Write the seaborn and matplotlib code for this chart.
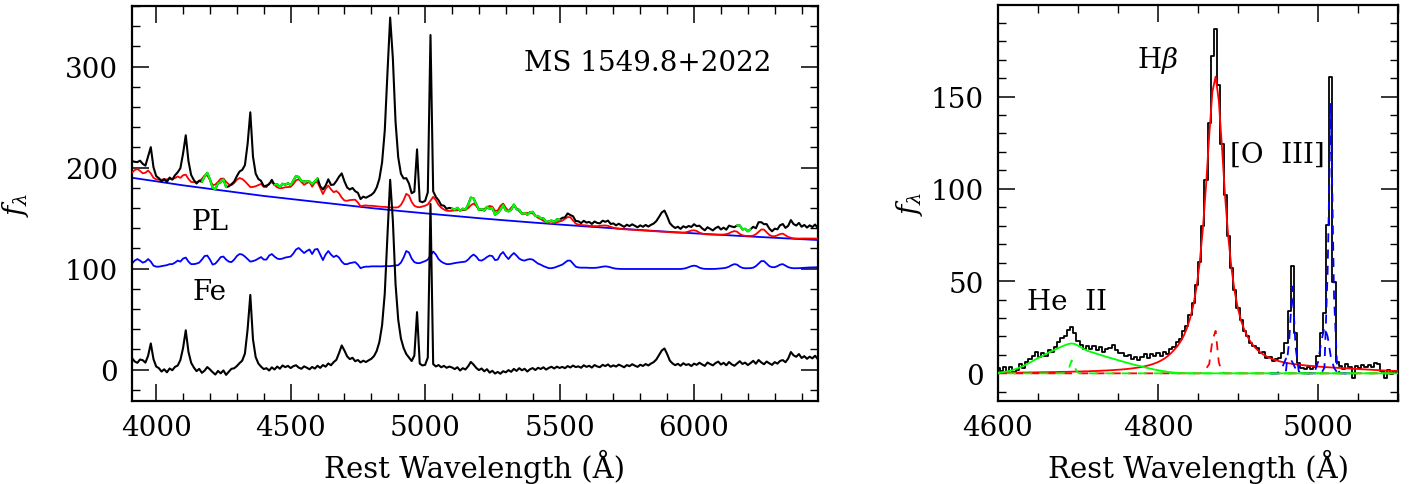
import numpy as np
import matplotlib
matplotlib.use("Agg")
import matplotlib.pyplot as plt
from matplotlib.ticker import MultipleLocator
import seaborn as sns

sns.set_theme(style="white")
plt.rcParams['font.family'] = ['DejaVu Serif']
plt.rcParams['mathtext.fontset'] = 'dejavuserif'
plt.rcParams.update({'text.color': 'black', 'axes.labelcolor': 'black',
                     'xtick.color': 'black', 'ytick.color': 'black',
                     'axes.edgecolor': 'black'})

# ---------------- Left panel data (10 A grid, 3910-6460) ----------------
wave_left = np.arange(3910, 6461, 10)

obs_total = [
    206.5, 205.8, 205.5, 206.9, 203.8, 202.0, 211.0, 220.3, 200.4, 191.7,
    189.6, 186.4, 188.7, 185.8, 190.2, 188.1, 192.5, 195.4, 199.5, 214.0,
    232.1, 206.6, 192.8, 187.8, 184.3, 187.2, 185.9, 191.3, 194.9, 188.3,
    180.1, 178.5, 184.7, 185.5, 188.5, 180.8, 181.5, 183.6, 186.2, 191.6,
    196.2, 197.8, 202.5, 223.6, 254.8, 210.9, 194.1, 188.8, 186.9, 181.6,
    182.2, 183.6, 187.9, 183.0, 183.6, 180.7, 184.1, 183.1, 184.6, 182.6,
    187.2, 191.8, 190.7, 186.7, 186.3, 186.7, 186.3, 183.8, 186.4, 189.4,
    181.5, 178.5, 182.1, 188.5, 182.9, 183.2, 186.7, 191.1, 194.3, 186.5,
    180.4, 178.4, 179.9, 176.7, 175.1, 168.9, 171.3, 170.2, 171.6, 173.1,
    175.5, 180.4, 189.0, 205.2, 236.7, 293.9, 348.6, 308.6, 245.6, 210.3,
    194.1, 189.3, 189.6, 184.3, 174.7, 176.3, 218.1, 166.8, 165.8, 167.1,
    175.6, 331.3, 176.6, 171.0, 167.7, 162.8, 162.4, 159.3, 160.2, 159.6,
    158.3, 160.3, 157.2, 159.4, 158.4, 163.4, 170.4, 169.6, 164.0, 158.1,
    159.0, 157.5, 161.3, 159.2, 160.3, 153.4, 155.3, 158.2, 163.0, 157.7,
    156.7, 158.3, 163.5, 158.8, 158.3, 154.4, 155.2, 153.3, 155.8, 156.3,
    152.2, 152.2, 149.8, 149.8, 146.3, 146.8, 147.7, 146.3, 148.9, 148.4,
    150.3, 150.8, 154.7, 153.1, 151.9, 147.2, 146.9, 145.1, 147.4, 145.6,
    146.3, 144.3, 146.7, 145.3, 144.9, 147.5, 146.4, 147.6, 144.3, 144.8,
    142.9, 144.5, 143.0, 141.4, 143.5, 142.2, 143.9, 142.4, 141.0, 142.9,
    141.5, 143.3, 141.7, 143.4, 144.7, 147.2, 151.3, 155.7, 157.5, 151.8,
    145.1, 142.2, 140.3, 141.5, 139.4, 142.0, 140.7, 142.3, 141.3, 144.0,
    142.1, 142.6, 139.9, 138.0, 141.0, 139.4, 137.9, 140.2, 141.6, 138.8,
    140.6, 138.6, 142.6, 141.7, 141.1, 142.8, 142.8, 138.8, 139.5, 137.0,
    138.9, 141.5, 140.0, 146.0, 146.0, 144.1, 144.1, 139.7, 137.0, 139.6,
    139.0, 143.0, 144.2, 140.4, 142.4, 148.1, 144.2, 142.7, 145.3, 141.5,
    143.3, 140.7, 142.9, 141.2, 143.7, 140.3,
]

model_pl_fe = [
    195.0, 197.6, 198.7, 196.8, 194.4, 195.0, 197.2, 194.3, 189.9, 188.5,
    188.1, 188.2, 188.3, 188.4, 189.0, 188.6, 189.7, 191.3, 189.9, 192.5,
    193.1, 188.8, 185.9, 185.6, 185.7, 186.4, 189.0, 192.2, 192.3, 188.0,
    182.6, 183.3, 185.9, 189.1, 189.2, 185.9, 183.5, 182.7, 184.8, 188.0,
    189.7, 188.8, 186.5, 183.6, 180.8, 180.9, 181.6, 182.7, 183.9, 181.0,
    180.7, 184.4, 185.6, 182.8, 180.5, 179.7, 179.9, 180.6, 180.8, 181.0,
    183.7, 187.4, 188.6, 185.8, 183.0, 184.7, 185.9, 181.1, 185.3, 185.5,
    179.7, 173.9, 179.1, 182.3, 178.5, 175.7, 176.9, 174.6, 170.3, 167.5,
    167.2, 167.9, 168.1, 168.3, 165.5, 161.7, 162.4, 162.6, 162.3, 162.3,
    162.0, 161.8, 161.5, 161.2, 161.2, 160.9, 160.6, 160.6, 160.6, 160.8,
    163.1, 167.8, 174.1, 172.3, 166.1, 162.3, 161.1, 160.8, 161.6, 162.3,
    163.6, 167.3, 171.1, 167.8, 163.1, 160.4, 158.6, 157.4, 157.1, 157.4,
    157.7, 157.9, 158.0, 157.9, 158.2, 160.0, 162.7, 164.5, 162.2, 158.5,
    157.8, 159.1, 160.8, 162.1, 161.4, 157.2, 157.5, 162.2, 164.5, 160.3,
    157.1, 160.4, 162.7, 160.0, 156.8, 155.0, 154.3, 155.1, 155.4, 154.7,
    152.5, 150.3, 149.1, 147.4, 146.2, 145.0, 144.8, 145.1, 145.9, 146.7,
    147.5, 149.3, 151.1, 150.9, 147.8, 144.6, 143.6, 143.2, 143.0, 142.8,
    142.4, 142.2, 142.1, 142.1, 142.4, 142.7, 142.8, 142.4, 141.4, 140.5,
    139.8, 139.5, 139.2, 139.0, 138.9, 138.7, 138.5, 138.4, 138.2, 138.0,
    137.8, 137.7, 137.5, 137.3, 137.2, 137.0, 136.8, 136.7, 136.5, 136.3,
    136.1, 136.0, 135.8, 135.7, 135.5, 135.6, 136.0, 136.8, 137.7, 138.0,
    137.3, 135.7, 134.7, 134.2, 133.9, 133.8, 133.6, 133.6, 133.6, 133.7,
    133.8, 134.2, 135.0, 136.4, 137.2, 136.6, 134.4, 133.1, 132.5, 132.4,
    132.4, 132.7, 134.1, 136.4, 138.8, 138.7, 136.0, 133.4, 132.2, 132.1,
    133.0, 134.3, 134.7, 133.0, 131.4, 130.6, 130.0, 129.9, 129.8, 129.9,
    129.9, 129.9, 130.0, 130.0, 129.9, 129.8,
]

fe_template = [
    105.0, 108.0, 109.5, 108.0, 106.0, 107.0, 109.5, 107.0, 103.0, 102.0,
    102.0, 102.5, 103.0, 103.5, 104.5, 104.5, 106.0, 108.0, 107.0, 110.0,
    111.0, 107.0, 104.5, 104.5, 105.0, 106.0, 109.0, 112.5, 113.0, 109.0,
    104.0, 105.0, 108.0, 111.5, 112.0, 109.0, 107.0, 106.5, 109.0, 112.5,
    114.5, 114.0, 112.0, 109.5, 107.0, 107.5, 108.5, 110.0, 111.5, 109.0,
    109.0, 113.0, 114.5, 112.0, 110.0, 109.5, 110.0, 111.0, 111.5, 112.0,
    115.0, 119.0, 120.5, 118.0, 115.5, 117.5, 119.0, 114.5, 119.0, 119.5,
    114.0, 108.5, 114.0, 117.5, 114.0, 111.5, 113.0, 111.0, 107.0, 104.5,
    104.5, 105.5, 106.0, 106.5, 104.0, 100.5, 101.5, 102.0, 102.0, 102.3,
    102.3, 102.3, 102.3, 102.3, 102.5, 102.5, 102.5, 102.8, 103.0, 103.5,
    106.0, 111.0, 117.5, 116.0, 110.0, 106.5, 105.5, 105.5, 106.5, 107.5,
    109.0, 113.0, 117.0, 114.0, 109.5, 107.0, 105.5, 104.5, 104.5, 105.0,
    105.5, 106.0, 106.3, 106.5, 107.0, 109.0, 112.0, 114.0, 112.0, 108.5,
    108.0, 109.5, 111.5, 113.0, 112.5, 108.5, 109.0, 114.0, 116.5, 112.5,
    109.5, 113.0, 115.5, 113.0, 110.0, 108.5, 108.0, 109.0, 109.5, 109.0,
    107.0, 105.0, 104.0, 102.5, 101.5, 100.5, 100.5, 101.0, 102.0, 103.0,
    104.0, 106.0, 108.0, 108.0, 105.0, 102.0, 101.2, 101.0, 101.0, 101.0,
    100.8, 100.8, 100.8, 101.0, 101.5, 102.0, 102.3, 102.0, 101.2, 100.5,
    100.0, 99.8, 99.7, 99.7, 99.7, 99.7, 99.7, 99.7, 99.7, 99.7,
    99.7, 99.7, 99.7, 99.7, 99.7, 99.8, 99.8, 99.8, 99.7, 99.7,
    99.7, 99.7, 99.7, 99.7, 99.7, 100.0, 100.5, 101.5, 102.5, 103.0,
    102.5, 101.0, 100.2, 99.8, 99.7, 99.7, 99.7, 99.8, 100.0, 100.2,
    100.5, 101.0, 102.0, 103.5, 104.5, 104.0, 102.0, 100.8, 100.4, 100.4,
    100.5, 101.0, 102.5, 105.0, 107.5, 107.5, 105.0, 102.5, 101.5, 101.5,
    102.5, 104.0, 104.5, 103.0, 101.5, 100.8, 100.4, 100.4, 100.5, 100.7,
    100.8, 101.0, 101.2, 101.3, 101.4, 101.4,
]

residual = [
    11.5, 8.2, 6.8, 10.1, 9.4, 7.0, 13.8, 26.0, 10.5, 3.2,
    1.5, -1.8, 0.4, -2.6, 1.2, -0.5, 2.8, 4.1, 9.6, 21.5,
    39.0, 17.8, 6.9, 2.2, -1.4, 0.8, -3.1, -0.9, 2.6, 0.3,
    -2.5, -4.8, -1.2, -3.6, -0.7, -5.1, -2.0, 0.9, 1.4, 3.6,
    6.5, 9.0, 16.0, 40.0, 74.0, 30.0, 12.5, 6.1, 3.0, 0.6,
    1.5, -0.8, 2.3, 0.2, 3.1, 1.0, 4.2, 2.5, 3.8, 1.6,
    3.5, 4.4, 2.1, 0.9, 3.3, 2.0, 0.4, 2.7, 1.1, 3.9,
    1.8, 4.6, 3.0, 6.2, 4.4, 7.5, 9.8, 16.5, 24.0, 19.0,
    13.2, 10.5, 11.8, 8.4, 9.6, 7.2, 8.9, 7.6, 9.3, 10.8,
    13.5, 18.6, 27.5, 44.0, 75.5, 133.0, 188.0, 148.0, 85.0, 49.5,
    31.0, 21.5, 15.5, 12.0, 8.6, 14.0, 57.0, 6.0, 4.2, 4.8,
    12.0, 164.0, 5.5, 3.2, 4.6, 2.4, 3.8, 1.9, 3.1, 2.2,
    0.6, 2.4, -0.8, 1.5, 0.2, 3.4, 7.7, 5.1, 1.8, -0.4,
    1.2, -1.6, 0.5, -2.9, -1.1, -3.8, -2.2, -4.0, -1.5, -2.6,
    -0.4, -2.1, 0.8, -1.2, 1.5, -0.6, 0.9, -1.8, 0.4, 1.6,
    -0.3, 1.9, 0.7, 2.4, 0.1, 1.8, 2.9, 1.2, 3.0, 1.7,
    2.8, 1.5, 3.6, 2.2, 4.1, 2.6, 3.3, 1.9, 4.4, 2.8,
    3.9, 2.1, 4.6, 3.2, 2.5, 4.8, 3.6, 5.2, 2.9, 4.3,
    3.1, 5.0, 3.8, 2.4, 4.6, 3.5, 5.4, 4.0, 2.8, 4.9,
    3.7, 5.6, 4.2, 6.1, 7.5, 10.2, 14.5, 19.0, 21.0, 15.5,
    9.0, 6.2, 4.5, 5.8, 3.9, 6.4, 4.7, 5.5, 3.6, 6.0,
    4.8, 6.9, 5.2, 3.8, 7.1, 5.6, 4.3, 6.6, 8.0, 5.1,
    6.8, 4.4, 7.6, 5.3, 3.9, 6.2, 8.4, 5.7, 7.0, 4.6,
    6.5, 8.8, 5.9, 9.6, 7.2, 5.4, 8.1, 6.3, 4.8, 7.5,
    6.0, 8.7, 9.5, 7.4, 11.0, 17.5, 14.2, 12.8, 15.5, 11.6,
    13.4, 10.8, 12.9, 11.2, 13.8, 10.5,
]

pl_wave = [3910, 4000, 4100, 4200, 4300, 4400, 4500, 4600, 4700, 4800, 4900,
           5000, 5100, 5200, 5300, 5400, 5500, 5600, 5700, 5800, 5900, 6000,
           6100, 6200, 6300, 6400, 6460]
pl_flux = [190.0, 186.5, 182.5, 179.0, 175.5, 172.0, 169.0, 166.0, 163.0, 160.0,
           157.3, 154.8, 152.4, 150.0, 147.8, 145.7, 143.7, 141.8, 140.0, 138.3,
           136.6, 135.0, 133.5, 132.0, 130.6, 129.2, 128.4]

fe_windows = [(4170, 4260), (4440, 4600), (5100, 5500), (6160, 6210)]

# ---------------- Right panel data (4 A grid, 4600-5100) ----------------
wave_right = np.arange(4600, 5101, 4)

obs_hb = [
    3.0, 1.4, 3.2, 0.6, 3.2, 0.8, 1.8, 5.2, 2.8, 6.3,
    8.0, 9.5, 11.4, 8.8, 11.2, 9.6, 12.7, 11.5, 14.5, 17.0,
    19.0, 20.5, 23.5, 25.1, 21.9, 17.5, 15.6, 13.3, 14.8, 13.2,
    14.8, 12.9, 14.4, 11.7, 13.1, 13.9, 15.6, 12.9, 10.9, 11.2,
    9.3, 10.2, 7.9, 8.8, 7.1, 8.7, 10.3, 8.5, 10.7, 9.4,
    10.9, 9.6, 11.5, 10.6, 13.2, 14.2, 16.9, 18.8, 22.7, 25.8,
    31.8, 38.2, 47.7, 60.6, 79.7, 104.9, 135.8, 172.2, 186.8, 156.2,
    124.5, 96.4, 74.2, 57.2, 45.1, 35.4, 29.1, 23.1, 20.4, 16.6,
    15.0, 13.8, 10.8, 11.3, 8.3, 8.9, 6.6, 7.7, 8.5, 11.0,
    16.5, 33.9, 58.1, 21.9, 5.6, 2.9, 2.1, 3.6, 2.2, 3.4,
    9.2, 21.6, 32.9, 80.3, 160.7, 49.6, 6.0, 4.1, 2.4, 4.8,
    3.5, -2.3, 4.0, 2.8, 4.6, 3.2, 4.6, 3.7, 5.8, 4.9,
    1.2, -2.3, 2.0, -0.5, 1.5, 0.2,
]

hb_broad = [
    0.3, 0.3, 0.3, 0.35, 0.35, 0.4, 0.4, 0.4, 0.45, 0.45,
    0.5, 0.5, 0.55, 0.55, 0.6, 0.6, 0.65, 0.7, 0.7, 0.75,
    0.8, 0.8, 0.85, 0.9, 0.95, 1.0, 1.0, 1.1, 1.1, 1.2,
    1.25, 1.3, 1.4, 1.5, 1.55, 1.65, 1.75, 1.9, 2.0, 2.15,
    2.3, 2.5, 2.7, 2.95, 3.2, 3.5, 3.9, 4.3, 4.8, 5.4,
    6.1, 7.0, 8.0, 9.3, 10.8, 12.6, 14.6, 17.1, 20.2, 24.3,
    29.6, 36.6, 46.2, 59.6, 77.9, 101.4, 128.8, 152.7, 160.8, 147.7,
    122.2, 94.9, 73.2, 56.4, 43.9, 34.9, 28.3, 23.5, 19.8, 16.9,
    14.6, 12.8, 11.3, 10.1, 9.1, 8.3, 7.6, 7.0, 6.5, 6.1,
    5.7, 5.4, 5.1, 4.9, 4.7, 4.5, 4.3, 4.15, 4.0, 3.85,
    3.7, 3.55, 3.4, 3.3, 3.2, 3.1, 3.0, 2.9, 2.8, 2.7,
    2.6, 2.5, 2.4, 2.3, 2.2, 2.1, 2.0, 1.9, 1.8, 1.7,
    1.6, 1.5, 1.4, 1.35, 1.3, 1.25,
]

hb_narrow_wave = [4600, 4840, 4848, 4852, 4856, 4860, 4864, 4868, 4872, 4876,
                  4880, 4884, 4890, 5100]
hb_narrow = [0, 0, 0, 0, 0.3, 2.5, 5, 18, 23, 6, 0.5, 0, 0, 0]

o3_wave = [4940, 4944, 4948, 4952, 4956, 4960, 4964, 4968, 4972, 4976, 4980,
           4990, 4996, 5000, 5004, 5008, 5012, 5016, 5020, 5024, 5028, 5040]
o3_broad = [0, 0, 0, 1, 4, 8, 9, 6, 2.5, 0.5, 0, 0, 1, 6, 17, 25, 20, 9, 3, 0.5, 0, 0]
o3_narrow = [0, 0, 0, 0, 0, 1.5, 18, 47, 14, 1, 0, 0, 0, 0, 0, 3, 55, 146, 42, 2, 0, 0]

heii_broad_wave = list(range(4600, 4840, 4)) + [4840, 5100]
heii_broad = [
    0.3, 0.5, 0.8, 1.1, 1.5, 2.0, 2.6, 3.3, 4.1, 5.0,
    5.9, 6.8, 7.8, 8.7, 9.6, 10.5, 11.4, 12.2, 13.0, 13.8,
    14.6, 15.3, 15.9, 16.2, 15.9, 15.0, 14.0, 13.0, 12.2, 11.6,
    11.1, 10.5, 10.0, 9.4, 8.9, 8.4, 7.9, 7.4, 6.9, 6.4,
    5.9, 5.4, 4.9, 4.5, 4.1, 3.7, 3.2, 2.8, 2.4, 2.0,
    1.7, 1.4, 1.1, 0.8, 0.6, 0.4, 0.3, 0.2, 0.1, 0.05,
    0.0, 0.0,
]
heii_narrow_wave = [4600, 4680, 4684, 4688, 4692, 4696, 4700, 4704, 5100]
heii_narrow = [0, 0, 0.3, 2, 7, 3, 0.3, 0, 0]

# ---------------- Figure ----------------
fig = plt.figure(figsize=(14.16, 4.85), dpi=100)
axL = fig.add_axes([0.0932, 0.1711, 0.4845, 0.8144])
axR = fig.add_axes([0.7048, 0.1711, 0.2825, 0.8165])

LW = 1.3
LWK = 1.5
BLUE, RED, GREEN = '#0000ff', '#ff0000', '#00ff00'
DASH = (0, (5, 4))

# Left panel
sns.lineplot(x=pl_wave, y=pl_flux, ax=axL, color=BLUE, lw=LW, zorder=2)
sns.lineplot(x=wave_left, y=model_pl_fe, ax=axL, color=RED, lw=LW, zorder=3)
sns.lineplot(x=wave_left, y=fe_template, ax=axL, color=BLUE, lw=LW, zorder=2)
sns.lineplot(x=wave_left, y=obs_total, ax=axL, color='black', lw=LWK, zorder=4)
sns.lineplot(x=wave_left, y=residual, ax=axL, color='black', lw=LWK, zorder=4)
obs_arr = np.array(obs_total)
for lo, hi in fe_windows:
    m = (wave_left >= lo) & (wave_left <= hi)
    sns.lineplot(x=wave_left[m], y=obs_arr[m], ax=axL, color=GREEN, lw=LWK, zorder=5)

axL.set_xlim(3910, 6461)
axL.set_ylim(-31, 360)
axL.xaxis.set_major_locator(MultipleLocator(500))
axL.xaxis.set_minor_locator(MultipleLocator(100))
axL.yaxis.set_major_locator(MultipleLocator(100))
axL.yaxis.set_minor_locator(MultipleLocator(20))

axL.text(5829, 304, 'MS 1549.8+2022', fontsize=20, ha='center', va='center')
axL.text(4200, 147, 'PL', fontsize=20, ha='center', va='center')
axL.text(4200, 77, 'Fe', fontsize=20, ha='center', va='center')

# Right panel
axR.plot(wave_right, obs_hb, color='black', lw=LW, drawstyle='steps-mid', zorder=2)
sns.lineplot(x=wave_right, y=hb_broad, ax=axR, color=RED, lw=LW, zorder=3)
axR.plot(hb_narrow_wave, hb_narrow, color=RED, lw=LW, ls=DASH, zorder=3)
axR.plot(o3_wave, o3_broad, color=BLUE, lw=LW, ls=DASH, zorder=3)
axR.plot(o3_wave, o3_narrow, color=BLUE, lw=LW, ls=DASH, zorder=3)
axR.plot(heii_narrow_wave, heii_narrow, color=GREEN, lw=LW, ls=(4, (5, 4)), zorder=4)
sns.lineplot(x=heii_broad_wave, y=heii_broad, ax=axR, color=GREEN, lw=LW, zorder=5)

axR.set_xlim(4600, 5100)
axR.set_ylim(-15, 199.6)
axR.xaxis.set_major_locator(MultipleLocator(200))
axR.xaxis.set_minor_locator(MultipleLocator(50))
axR.yaxis.set_major_locator(MultipleLocator(50))
axR.yaxis.set_minor_locator(MultipleLocator(10))

axR.text(4799, 170, r'H$\beta$', fontsize=20, ha='center', va='center')
axR.text(4949, 119, '[O  III]', fontsize=20, ha='center', va='center')
axR.text(4686, 39, 'He  II', fontsize=20, ha='center', va='center')

for ax in (axL, axR):
    ax.tick_params(which='both', direction='in', top=True, right=True,
                   bottom=True, left=True, colors='black')
    ax.tick_params(which='major', length=12, width=1.1, labelsize=20)
    ax.tick_params(which='minor', length=6, width=1.0)
    ax.tick_params(axis='x', which='major', pad=9)
    ax.tick_params(axis='y', which='major', pad=10)
    for s in ax.spines.values():
        s.set_linewidth(1.6)
        s.set_color('black')
    ax.set_xlabel('Rest Wavelength (Å)', fontsize=21, labelpad=6)
    ax.grid(False)

axL.set_ylabel(r'$f_\lambda$', fontsize=20, labelpad=24)
axR.set_ylabel(r'$f_\lambda$', fontsize=20, labelpad=4)

fig.savefig('out.png', dpi=100)
